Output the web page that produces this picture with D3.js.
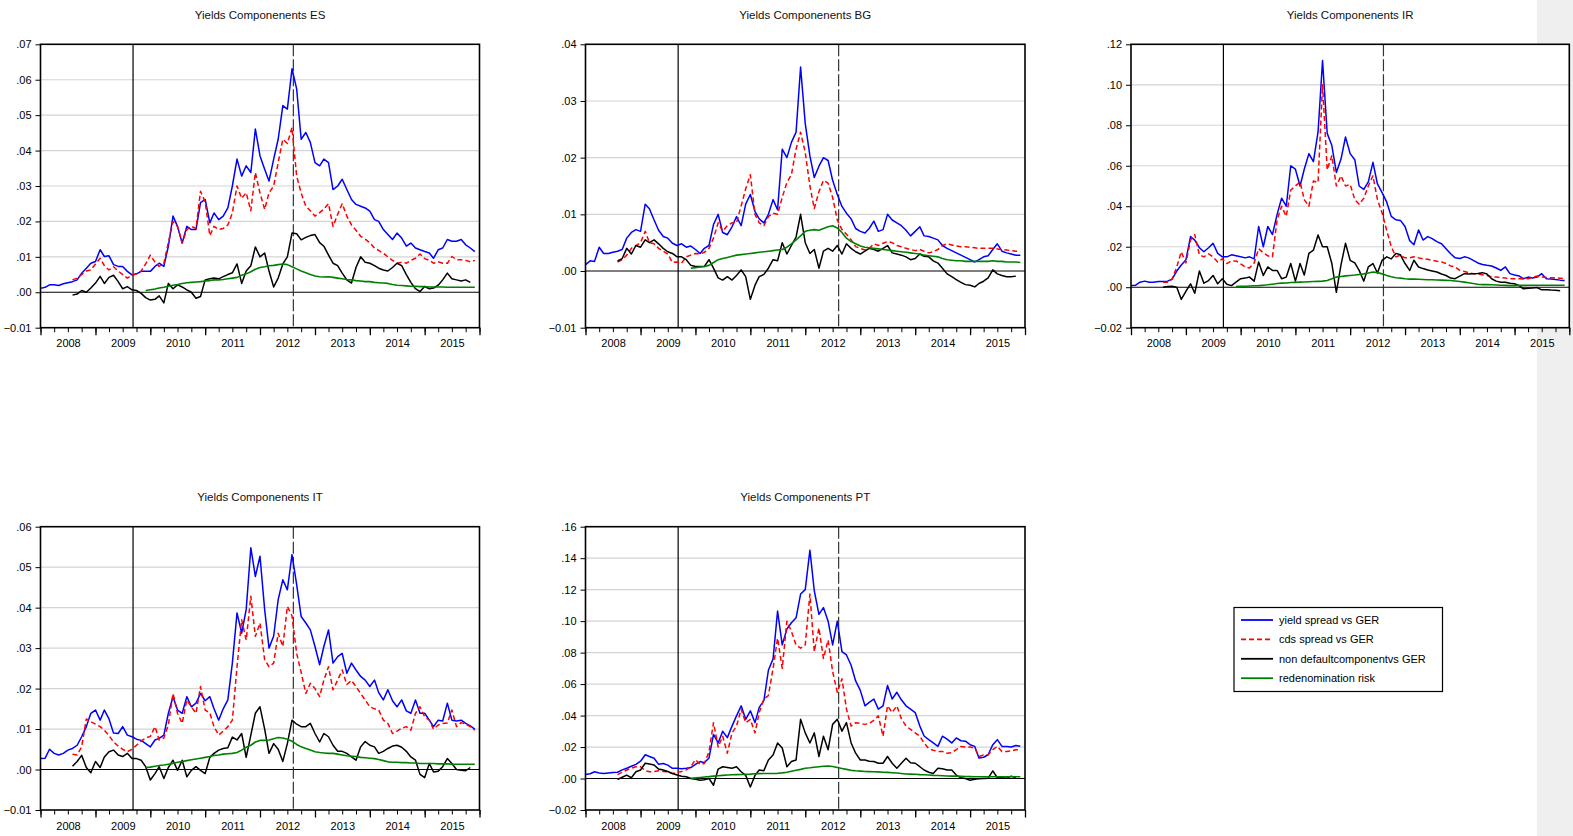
<!DOCTYPE html>
<html><head><meta charset="utf-8">
<script src="https://cdn.jsdelivr.net/npm/d3@7"></script>
<style>body{margin:0;background:#fff;} svg{display:block;font-family:"Liberation Sans",Arial,sans-serif;}</style>
</head><body><svg id="chart" width="1573" height="836"></svg>
<script>
// ---- DATA (values in basis points; monthly, first month = Jan 2008 + start offset) ----
const years = ["2008","2009","2010","2011","2012","2013","2014","2015"];
const seriesNames = ["yield spread vs GER","cds spread vs GER","non defaultcomponentvs GER","redenomination risk"];
const seriesStart = [0, 7, 7, 23]; // month offsets from Jan 2008
const eventDates = ["2009-09-08","2012-08-10"]; // solid, dashed verticals

const esYield = [11,14,21,21,19,24,27,30,35,54,68,82,87,120,101,103,78,73,73,59,49,52,59,59,59,73,82,73,130,215,186,139,186,177,177,253,262,196,224,205,215,238,300,376,328,357,338,461,385,347,314,376,432,527,517,631,574,432,451,423,366,357,376,366,290,300,319,290,262,248,243,238,229,205,200,177,163,149,167,153,130,139,125,120,115,111,96,120,125,149,144,144,149,134,125,115];
const esCds = [35,40,50,60,63,80,96,75,63,72,60,50,40,48,52,60,80,105,85,73,82,140,200,186,139,177,186,180,285,255,160,186,177,180,190,224,300,265,281,230,338,280,234,281,300,366,432,420,465,328,280,243,230,215,225,235,250,186,220,250,215,190,175,158,150,140,125,118,110,100,90,82,85,82,90,96,108,95,90,82,86,82,82,101,92,92,90,86,90];
const esNonDef = [-8,-5,5,0,12,26,45,25,42,48,30,10,16,7,5,-3,-15,-22,-20,-10,-30,25,10,21,15,7,0,-17,-12,35,38,40,38,44,50,55,80,25,60,75,128,100,111,60,15,40,80,100,167,165,148,155,160,163,140,130,105,82,75,54,35,26,70,100,85,82,75,68,63,60,70,82,75,50,28,10,2,16,10,12,20,35,54,38,35,32,35,28];
const esRedenom = [5,7,9,12,14,17,20,22,25,27,28,29,30,32,33,35,35,36,38,40,42,48,52,58,65,70,72,75,76,78,80,78,72,66,60,55,50,46,44,43,44,42,40,38,36,35,33,32,30,30,28,27,26,25,22,20,19,18,17,17,16,16,15,15,15,15,14,14,14,14,14,14,14];

const bgYield = [11,18,17,42,31,31,33,35,38,58,68,73,70,118,110,90,72,61,58,49,45,48,42,44,38,31,40,45,82,100,68,64,78,96,80,118,135,105,92,85,100,126,108,215,200,227,245,360,260,203,165,185,200,195,160,135,114,102,92,75,70,67,75,88,70,73,100,90,85,80,72,62,70,78,62,61,58,55,45,40,36,32,28,24,20,16,20,25,27,38,48,35,32,30,28,28];
const bgCds = [16,20,28,40,45,50,70,50,48,40,35,30,15,16,14,25,28,31,30,33,40,58,85,70,80,85,85,115,145,170,100,85,80,96,102,100,130,156,170,215,245,209,150,110,140,160,155,130,90,73,65,55,43,40,37,40,48,45,49,52,50,45,43,40,38,36,38,35,32,34,38,45,48,46,44,43,43,42,41,40,40,40,40,39,38,37,36,35,34];
const bgNonDef = [18,22,40,30,45,42,55,50,55,48,40,34,31,25,25,20,10,8,8,8,20,5,-12,-16,-10,-16,-8,2,-10,-50,-25,-10,-6,5,20,18,50,30,45,60,100,50,31,38,5,35,40,35,45,30,48,40,34,30,35,40,38,35,40,45,32,30,28,25,20,22,30,26,25,18,14,5,-5,-10,-15,-20,-24,-25,-28,-22,-18,-12,2,-5,-8,-10,-10,-9];
const bgRedenom = [5,6,7,8,10,15,20,22,24,26,28,29,30,31,32,33,34,35,36,37,38,42,48,55,62,70,72,73,72,75,78,80,76,68,58,52,48,44,42,41,40,39,38,37,36,35,34,33,32,31,30,28,27,26,25,22,20,19,18,18,17,17,17,17,17,17,18,17,17,16,16,16,15];

const irYield = [8,10,25,30,25,25,28,28,30,40,80,110,135,250,233,195,175,195,217,167,150,150,160,155,150,145,150,140,300,200,300,260,360,440,400,600,583,500,583,660,620,767,1120,760,700,567,633,742,660,630,500,483,520,617,510,467,420,350,333,330,300,230,210,283,233,250,240,225,215,190,165,145,142,150,145,133,120,112,108,105,95,83,100,67,60,55,42,50,45,50,67,42,40,38,35,33];
const irCds = [25,25,40,100,175,120,233,260,160,150,165,150,125,140,117,130,130,115,100,95,120,190,170,155,150,333,400,350,480,500,520,433,400,525,517,1000,580,650,500,550,500,508,433,410,440,500,550,433,367,280,200,150,158,145,145,150,145,140,138,133,128,125,117,105,100,83,78,72,67,65,62,58,52,50,48,45,42,42,42,40,42,48,55,50,48,47,46,44,42];
const irNonDef = [0,3,5,0,-60,-20,17,-30,80,20,33,58,17,42,15,8,25,42,45,50,30,125,58,100,83,83,42,50,117,30,117,60,167,183,258,200,200,117,-25,110,217,133,120,83,30,100,117,70,133,150,140,167,160,117,83,133,100,92,85,80,75,65,58,45,42,55,67,65,67,68,72,65,42,30,25,25,20,17,8,-8,-5,-4,-2,-13,-12,-14,-15,-17];
const irRedenom = [3,4,5,6,7,8,10,12,15,18,20,21,23,24,25,26,27,28,29,30,33,42,50,53,56,58,60,63,66,70,75,72,66,58,52,47,45,42,40,40,39,38,37,37,36,35,34,33,31,28,25,22,18,15,13,13,12,11,10,9,8,8,9,9,10,10,10,10,10,10,10,10,10];

const itYield = [27,28,50,40,36,40,48,52,60,81,106,139,147,122,147,125,90,89,106,85,81,75,72,64,56,73,77,85,139,180,147,139,180,155,164,188,170,180,150,122,150,172,263,387,337,395,548,477,527,395,300,330,420,469,444,531,457,378,362,345,304,259,304,345,263,279,287,238,263,246,230,221,205,221,190,172,197,170,155,172,145,139,172,139,139,122,106,122,120,164,122,120,122,114,108,100];
const itCds = [38,36,56,125,118,112,106,97,84,68,58,50,44,50,60,70,78,82,106,73,78,110,188,139,114,172,155,139,205,147,140,106,85,95,106,122,254,370,320,428,329,362,271,254,263,337,304,403,380,287,240,188,213,200,180,221,254,197,221,246,210,220,205,188,172,155,150,147,122,114,89,95,102,106,97,139,155,130,122,100,110,114,115,147,106,116,112,106,97];
const itNonDef = [8,20,35,5,-8,20,5,31,44,48,36,32,40,27,27,23,7,-26,-10,7,-22,5,23,-2,23,-18,-2,7,-2,-10,30,40,48,52,54,80,73,89,30,85,139,155,100,40,64,50,20,64,122,112,106,106,114,89,68,89,81,60,45,45,40,31,23,56,69,60,56,40,45,52,58,60,55,45,31,23,-12,-20,15,-6,-4,7,27,15,0,-2,-3,5];
const itRedenom = [5,6,8,10,11,13,15,18,20,22,24,26,28,30,32,35,36,38,39,40,42,48,55,60,68,72,72,73,76,79,78,75,70,62,56,52,48,44,42,41,40,40,38,36,34,33,32,30,29,28,27,25,22,19,18,18,17,17,16,16,15,15,15,15,14,14,14,13,13,13,13,13,13];

const ptYield = [26,30,43,35,32,35,38,40,55,65,78,90,110,151,140,129,90,95,85,65,65,62,65,70,90,108,100,130,280,226,300,260,333,398,462,376,430,355,452,495,688,760,1064,849,950,990,1021,1172,1200,1451,1193,1043,1086,1000,849,1000,806,785,720,620,560,462,484,505,441,462,591,505,548,500,462,441,419,333,270,247,226,204,269,250,226,258,240,237,215,204,130,135,151,215,247,204,204,200,210,205];
const ptCds = [25,40,54,65,75,75,50,43,45,50,45,42,32,38,45,55,75,120,90,95,170,355,200,269,161,290,333,441,355,376,290,419,505,527,699,892,700,1000,935,849,828,849,1172,806,957,763,880,680,548,634,441,333,355,350,344,350,370,398,269,462,419,462,380,333,312,290,269,226,190,180,172,172,160,165,183,204,200,200,194,140,150,151,183,204,172,172,175,183,183];
const ptNonDef = [-6,8,22,5,43,54,97,92,86,60,54,45,32,22,15,11,0,-5,-11,-8,0,-43,60,75,70,65,75,43,20,-54,20,54,50,118,150,226,194,75,108,118,376,290,226,290,140,269,183,344,376,301,355,226,161,118,118,110,108,97,97,140,97,65,97,129,100,97,75,54,40,32,65,62,54,54,22,5,0,-11,-5,-2,0,2,49,5,5,2,15,5];
const ptRedenom = [2,4,7,10,12,15,18,20,22,24,25,26,27,28,30,31,32,32,32,33,36,40,46,52,58,65,68,72,75,78,80,76,70,64,58,52,49,47,45,44,43,42,40,39,37,35,32,29,28,27,25,24,22,20,19,18,16,15,15,14,13,12,11,11,11,11,11,11,11,11,11,11,11];

// ---- LAYOUT ----
const panels = [
  {code:"ES", data:[esYield,esCds,esNonDef,esRedenom], yMin:-1, yMax:7, step:1, l:40.5, r:479.5, t:44.3, b:327.7},
  {code:"BG", data:[bgYield,bgCds,bgNonDef,bgRedenom], yMin:-1, yMax:4, step:1, l:585.5, r:1025, t:44.3, b:327.7},
  {code:"IR", data:[irYield,irCds,irNonDef,irRedenom], yMin:-2, yMax:12, step:2, l:1131, r:1569.3, t:44.3, b:327.7},
  {code:"IT", data:[itYield,itCds,itNonDef,itRedenom], yMin:-1, yMax:6, step:1, l:40.5, r:479.5, t:526.7, b:810},
  {code:"PT", data:[ptYield,ptCds,ptNonDef,ptRedenom], yMin:-2, yMax:16, step:2, l:585.5, r:1025, t:526.7, b:810}
];
const colors = ["#0000ff","#ff0000","#000000","#008000"];
const dashes = [null,"5,3",null,null];
const widths = [1.5,1.5,1.5,1.6];

const svg = d3.select("#chart");
svg.append("rect").attr("x",1537).attr("y",0).attr("width",36).attr("height",836).attr("fill","#efefef");

const fmt = v => {
  const s = d3.format(".2f")(Math.abs(v) < 1e-9 ? 0 : v);
  return s.replace(/^(-?)0\./, "$1.");
};
const parse = d3.timeParse("%Y-%m-%d");

panels.forEach((p, pi) => {
  const g = svg.append("g");
  const x = d3.scaleTime().domain([new Date(2008,0,1), new Date(2016,0,1)]).range([p.l, p.r]);
  const y = d3.scaleLinear().domain([p.yMin/100, p.yMax/100]).range([p.b, p.t]);
  const nT = Math.round((p.yMax - p.yMin)/p.step);
  const yTicks = d3.range(0, nT+1).map(i => (p.yMin + i*p.step)/100);

  g.append("rect").attr("x",p.l).attr("y",p.t).attr("width",p.r-p.l).attr("height",p.b-p.t).attr("fill","#fff");

  // title
  g.append("text").attr("x",(p.l+p.r)/2).attr("y",p.t-25.5).attr("text-anchor","middle")
    .attr("font-size",11.5).attr("fill","#111").text("Yields Componenents " + p.code);

  // gridlines
  g.append("g").selectAll("line").data(yTicks.filter(v => Math.abs(v) > 1e-9 && v < p.yMax/100 - 1e-9 && v > p.yMin/100 + 1e-9))
    .join("line").attr("x1",p.l).attr("x2",p.r).attr("y1",d=>y(d)).attr("y2",d=>y(d))
    .attr("stroke","#d4d4d4").attr("stroke-width",1.2);

  // y axis
  const ya = g.append("g").attr("transform",`translate(${p.l},0)`)
    .call(d3.axisLeft(y).tickValues(yTicks).tickFormat(fmt).tickSize(5).tickPadding(4));
  ya.select(".domain").remove();
  ya.selectAll("text").attr("font-size",11).attr("fill","#000").attr("font-family","Liberation Sans, Arial, sans-serif");

  // x axis: quarter minor ticks, year major ticks, year labels
  const xMinor = g.append("g").attr("transform",`translate(0,${p.b})`)
    .call(d3.axisBottom(x).ticks(d3.timeMonth.every(3)).tickFormat("").tickSize(4.5));
  xMinor.select(".domain").remove();
  const xMajor = g.append("g").attr("transform",`translate(0,${p.b})`)
    .call(d3.axisBottom(x).tickValues(d3.timeYear.range(new Date(2008,0,1), new Date(2016,0,2))).tickFormat("").tickSize(7.5));
  xMajor.select(".domain").remove();
  xMajor.selectAll("line").attr("stroke-width",1.3);
  const xLab = g.append("g").attr("transform",`translate(0,${p.b})`)
    .call(d3.axisBottom(x).tickValues(years.map(yr => new Date(+yr,6,2))).tickFormat(d3.timeFormat("%Y")).tickSize(0).tickPadding(12));
  xLab.select(".domain").remove();
  xLab.selectAll("text").attr("font-size",11).attr("fill","#000").attr("font-family","Liberation Sans, Arial, sans-serif");

  const clipId = "clip"+pi;
  g.append("clipPath").attr("id",clipId).append("rect").attr("x",p.l).attr("y",p.t).attr("width",p.r-p.l).attr("height",p.b-p.t);
  const plot = g.append("g").attr("clip-path",`url(#${clipId})`);

  // zero line
  plot.append("line").attr("x1",p.l).attr("x2",p.r).attr("y1",y(0)).attr("y2",y(0)).attr("stroke","#000").attr("stroke-width",1.1);
  // event lines
  eventDates.forEach((ds, i) => {
    const d = parse(ds);
    plot.append("line").attr("x1",x(d)).attr("x2",x(d)).attr("y1",p.t).attr("y2",p.b)
      .attr("stroke", i===0 ? "#000" : "#333").attr("stroke-width",1.2)
      .attr("stroke-dasharray", i===0 ? null : "12,3");
  });

  // series
  const line = d3.line().x(d => x(d.date)).y(d => y(d.v));
  p.data.forEach((arr, si) => {
    const pts = arr.map((v, i) => ({date: new Date(2008, seriesStart[si] + i, 1), v: v/10000}));
    plot.append("path").datum(pts).attr("d", line).attr("fill","none")
      .attr("stroke", colors[si]).attr("stroke-width", widths[si])
      .attr("stroke-dasharray", dashes[si]).attr("stroke-linejoin","round");
  });

  // frame
  g.append("rect").attr("x",p.l).attr("y",p.t).attr("width",p.r-p.l).attr("height",p.b-p.t)
    .attr("fill","none").attr("stroke","#000").attr("stroke-width",1.6);
});

// legend
const lg = svg.append("g");
lg.append("rect").attr("x",1234).attr("y",607.5).attr("width",208.5).attr("height",84).attr("fill","#fff").attr("stroke","#000").attr("stroke-width",1.2);
seriesNames.forEach((name, i) => {
  const yy = 620 + i*19.4;
  lg.append("line").attr("x1",1241).attr("x2",1273).attr("y1",yy).attr("y2",yy)
    .attr("stroke",colors[i]).attr("stroke-width",1.8).attr("stroke-dasharray",dashes[i]);
  lg.append("text").attr("x",1279).attr("y",yy+4).attr("font-size",11).attr("fill","#000").text(name);
});
</script>
</body></html>
